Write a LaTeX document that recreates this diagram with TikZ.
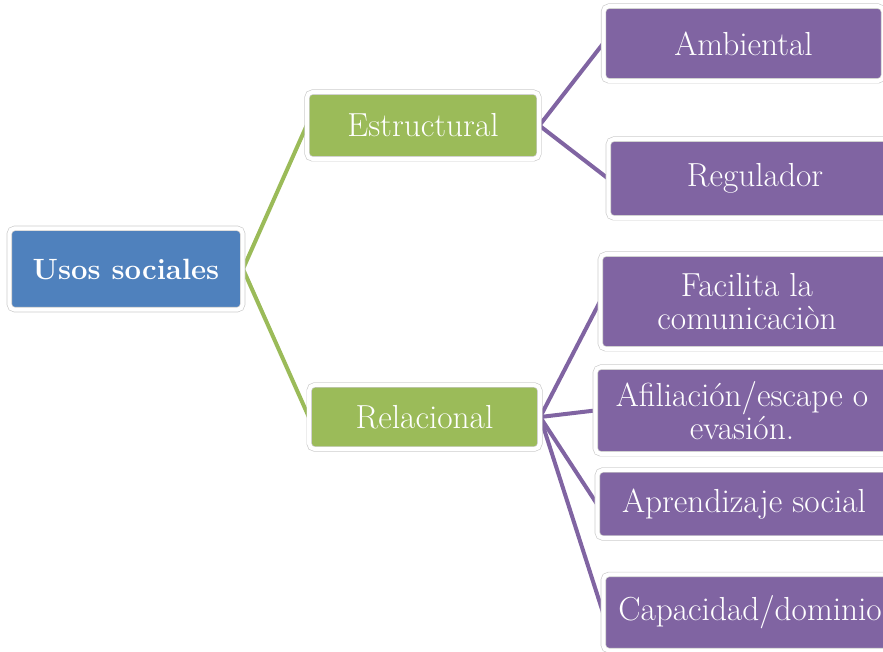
\documentclass[tikz,border=0pt]{standalone}
\usetikzlibrary{positioning,backgrounds}

\definecolor{rootblue}{HTML}{4F81BD}
\definecolor{midgreen}{HTML}{9BBB59}
\definecolor{leafpurple}{HTML}{8064A2}

\begin{document}
\begin{tikzpicture}[x=0.75pt, y=-0.75pt,
    box/.style={rectangle, rounded corners=4pt, draw=gray!40, line width=0.5pt, double=white, double distance=3pt, text=white, align=center, inner sep=0pt, font=\fontsize{25}{25}\selectfont},
    root/.style={fill=rootblue, font=\fontsize{22}{25}\selectfont\bfseries},
    mid/.style={fill=midgreen},
    leaf/.style={fill=leafpurple, minimum width=220pt},
    greenline/.style={midgreen, line width=3pt},
    purpleline/.style={leafpurple, line width=3pt}
]
    \useasboundingbox (0,0) rectangle (883,652);
    \clip (0,0) rectangle (883,652);

    \node[box, root, minimum width=175pt, minimum height=61pt] (usos) at (126,269) {Usos sociales};

    \node[box, mid, minimum width=174pt, minimum height=50pt] (estruct) at (423,125.5) {Estructural};
    \node[box, mid, minimum width=173pt, minimum height=48pt] (relac) at (424.5,417) {Relacional};

    \node[box, leaf, minimum width=210pt, minimum height=56pt] (amb) at (743.5,43.5) {Ambiental};
    \node[box, leaf, minimum height=59pt] (regul) at (755,178.5) {Regulador};

    \node[box, leaf, minimum height=71pt] (facil) at (747,301.5) {Facilita la\\comunicaciòn};
    \node[box, leaf, minimum height=65pt] (afil) at (742,410.5) {Afiliación/escape o\\evasión.};
    \node[box, leaf, minimum height=51pt] (aprend) at (744,504) {Aprendizaje social};
    \node[box, leaf, minimum height=57pt] (capac) at (750,612.5) {Capacidad/dominio};

    \begin{scope}[on background layer]
        \draw[greenline] (usos.east) -- (estruct.west);
        \draw[greenline] (usos.east) -- (relac.west);

        \draw[purpleline] (estruct.east) -- (amb.west);
        \draw[purpleline] (estruct.east) -- (regul.west);

        \draw[purpleline] (relac.east) -- (facil.west);
        \draw[purpleline] (relac.east) -- (afil.west);
        \draw[purpleline] (relac.east) -- (aprend.west);
        \draw[purpleline] (relac.east) -- (capac.west);
    \end{scope}
\end{tikzpicture}
\end{document}
